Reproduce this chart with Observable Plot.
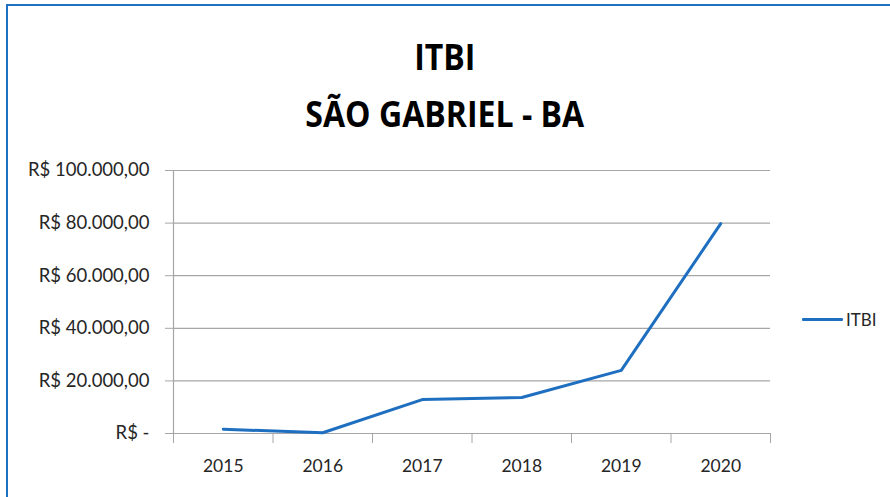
<!DOCTYPE html>
<html>
<head>
<meta charset="utf-8">
<script src="https://cdn.jsdelivr.net/npm/d3@7"></script>
<script src="https://cdn.jsdelivr.net/npm/@observablehq/plot@0.6"></script>
<style>
  html, body { margin: 0; padding: 0; background: #fff; }
  #wrap { position: relative; width: 890px; height: 497px; overflow: hidden; font-family: "Open Sans", sans-serif; }
  #frame { position: absolute; left: 6px; top: 4px; width: 900px; height: 520px; border-top: 2px solid #1f72c1; border-left: 2px solid #1f72c1; box-sizing: border-box; pointer-events: none; }
  .title { position: absolute; left: 0; width: 890px; text-align: center; font-family: "Open Sans", sans-serif; font-weight: 700; color: #000; white-space: nowrap; transform: scaleX(0.89); transform-origin: 443px 0; }
  #t1 { top: 35px; font-size: 36px; line-height: 44px; }
  #t2 { top: 92px; font-size: 36px; line-height: 44px; }
  #legend { position: absolute; left: 802px; top: 309px; display: flex; align-items: center; font-family: Lato, sans-serif; font-size: 17px; color: #262626; }
  #legend .sw { width: 41px; height: 3px; background: #1f6fc0; margin-right: 3px; border-radius: 1px; }
  #chart { position: absolute; left: 0; top: 0; }
</style>
</head>
<body>
<div id="wrap">
  <div id="chart"></div>
  <div id="t1" class="title">ITBI</div>
  <div id="t2" class="title">SÃO GABRIEL - BA</div>
  <div id="legend"><span class="sw"></span><span>ITBI</span></div>
  <div id="frame"></div>
</div>
<script>
const years = [2015, 2016, 2017, 2018, 2019, 2020];
const itbi = [1600, 300, 12900, 13700, 24000, 79800];
const yTicks = [0, 20000, 40000, 60000, 80000, 100000];
const seriesName = "ITBI";

const data = years.map((y, i) => ({year: y, value: itbi[i]}));
const bounds = [years[0] - 0.5, ...years.map(y => y + 0.5)];

const fmt = v => v === 0 ? "R$ -" : "R$ " + d3.format(",.2f")(v).replace(/,/g, "#").replace(/\./g, ",").replace(/#/g, ".");

const plot = Plot.plot({
  width: 890,
  height: 497,
  marginLeft: 173,
  marginRight: 120,
  marginTop: 170,
  marginBottom: 64,
  style: {fontFamily: "Lato, sans-serif", fontSize: "17px", color: "#262626", background: "transparent"},
  x: {type: "linear", domain: [bounds[0], bounds[bounds.length - 1]], label: null},
  y: {domain: [0, 100000], label: null},
  marks: [
    Plot.ruleY(yTicks, {stroke: "#a6a6a6", strokeWidth: 1.2, strokeOpacity: 1}),
    Plot.ruleX([bounds[0]], {stroke: "#a6a6a6", strokeWidth: 1.2, strokeOpacity: 1}),
    Plot.axisY({ticks: yTicks, tickFormat: fmt, tickSize: 8, tickPadding: 16, stroke: "#a6a6a6", strokeOpacity: 1, fontSize: 18.5, fill: "#262626", label: null}),
    Plot.axisX({ticks: bounds, tickFormat: () => "", tickSize: 10, stroke: "#a6a6a6", strokeOpacity: 1, label: null}),
    Plot.axisX({ticks: years, tickFormat: d => String(d), tickSize: 0, tickPadding: 26, fontSize: 17.5, fill: "#262626", label: null}),
    Plot.lineY(data, {x: "year", y: "value", stroke: "#1f6fc0", strokeWidth: 3, strokeLinejoin: "round"})
  ]
});
document.getElementById("chart").appendChild(plot);
</script>
</body>
</html>
